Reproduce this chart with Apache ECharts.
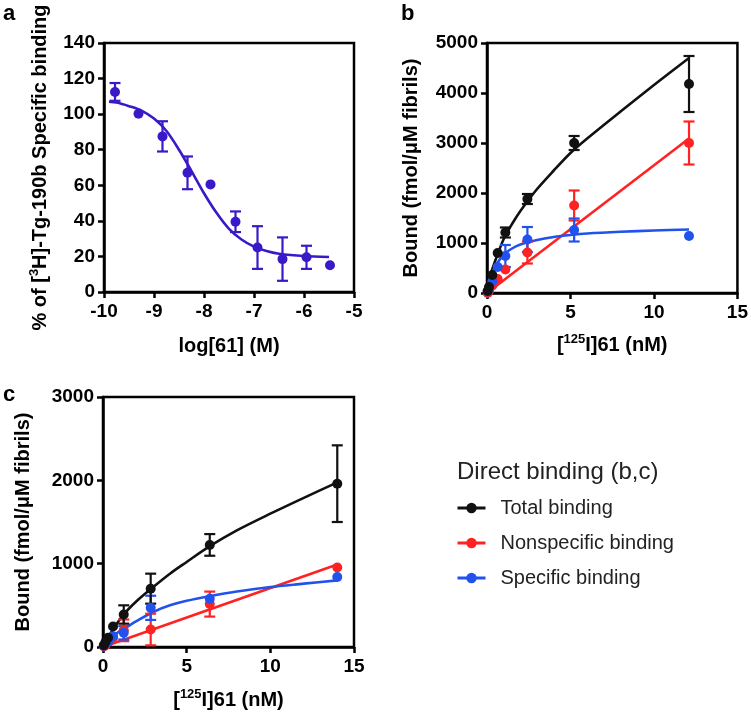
<!DOCTYPE html>
<html>
<head>
<meta charset="utf-8">
<script src="https://cdn.jsdelivr.net/npm/echarts@6/dist/echarts.min.js"></script>
<style>
html,body{margin:0;padding:0;background:#fff;}
#chart{width:751px;height:715px;}
</style>
</head>
<body>
<div id="chart"></div>
<script>
// ---------- Panel a: competition binding ----------
const aX = [-9.78, -9.31, -8.83, -8.33, -7.87, -7.37, -6.93, -6.43, -5.95, -5.48];
const aY = [112.5, 100.2, 87.5, 67, 60.5, 39.5, 25, 18.5, 19.5, 15];
const aErr = [5, 0, 8.5, 9.2, 0, 5.8, 12, 12.2, 6.5, 0];
const aCurveX = [-9.9, -9.75, -9.5, -9.25, -9, -8.75, -8.5, -8.25, -8, -7.75, -7.5, -7.25, -7, -6.75, -6.5, -6, -5.5];
const aCurveY = [107, 106.5, 104.5, 102, 97.5, 90.5, 80, 68, 55.5, 44.5, 35.5, 29.5, 25.5, 23, 21.5, 20.2, 19.7];

// ---------- Panel b: direct binding ----------
const bX = [0.04, 0.12, 0.32, 0.64, 1.1, 2.42, 5.22, 12.1];
const bTotal = [40, 120, 360, 800, 1210, 1880, 3000, 4180];
const bTotalErr = [0, 0, 0, 0, 100, 100, 140, 560];
const bNonspec = [0, 40, 150, 280, 470, 810, 1750, 3000];
const bNonspecErr = [0, 0, 0, 0, 0, 220, 300, 430];
const bSpec = [30, 90, 230, 520, 740, 1070, 1260, 1140];
const bSpecErr = [0, 0, 0, 0, 220, 250, 230, 0];
const bCurveX = [0, 0.25, 0.5, 1, 1.5, 2, 3, 4, 5, 6, 8, 10, 12.1];
const bTotalCurve = [0, 400, 650, 1080, 1380, 1640, 2080, 2450, 2800, 3090, 3630, 4160, 4700];
const bSpecCurve = [0, 330, 530, 770, 890, 970, 1060, 1120, 1160, 1190, 1225, 1250, 1270];
const bNonspecLineX = [0, 12.1];
const bNonspecLineY = [0, 3090];

// ---------- Panel c: direct binding ----------
const cX = [0.05, 0.15, 0.3, 0.6, 1.24, 2.85, 6.38, 14.0];
const cTotal = [20, 60, 110, 245, 390, 700, 1225, 1960];
const cTotalErr = [0, 0, 0, 0, 110, 180, 130, 460];
const cNonspec = [5, 20, 60, 110, 200, 210, 515, 955];
const cNonspecErr = [0, 0, 0, 0, 130, 190, 150, 0];
const cSpec = [15, 40, 60, 130, 170, 470, 580, 840];
const cSpecErr = [0, 0, 0, 0, 80, 145, 0, 0];
const cCurveX = [0, 0.25, 0.5, 1, 1.5, 2, 3, 4, 5, 6.38, 8, 10, 12, 14];
const cTotalCurve = [0, 100, 180, 330, 450, 550, 720, 880, 1020, 1210, 1400, 1600, 1790, 1975];
const cSpecCurve = [0, 60, 110, 190, 250, 310, 420, 500, 555, 610, 665, 720, 760, 800];
const cNonspecLineX = [0, 14];
const cNonspecLineY = [0, 990];

// ---------- Tick settings ----------
const aXTicks = {min: -10, max: -5, interval: 1};
const aYTicks = {min: 0, max: 140, interval: 20};
const bXTicks = {min: 0, max: 15, interval: 5};
const bYTicks = {min: 0, max: 5000, interval: 1000};
const cXTicks = {min: 0, max: 15, interval: 5};
const cYTicks = {min: 0, max: 3000, interval: 1000};

const seriesNames = ['Total binding', 'Nonspecific binding', 'Specific binding'];

const PURPLE = '#3a1ac8', BLACK = '#111111', RED = '#ff2222', BLUE = '#2152ee';
const FONT = 'Liberation Sans, Arial, Helvetica, sans-serif';

function zip(xs, ys) { return xs.map((x, i) => [x, ys[i]]); }
function errData(xs, ys, es) {
  const out = [];
  xs.forEach((x, i) => { if (es[i] > 0) out.push([x, ys[i] - es[i], ys[i] + es[i]]); });
  return out;
}
function errSeries(idx, data, color) {
  return {
    type: 'custom', xAxisIndex: idx, yAxisIndex: idx, data: data,
    encode: {x: 0, y: [1, 2]}, z: 3,
    renderItem: function (params, api) {
      const x = api.value(0);
      const lo = api.coord([x, api.value(1)]);
      const hi = api.coord([x, api.value(2)]);
      const cap = 5.5;
      const st = {stroke: color, lineWidth: 2.2};
      return {type: 'group', children: [
        {type: 'line', shape: {x1: lo[0], y1: lo[1], x2: hi[0], y2: hi[1]}, style: st},
        {type: 'line', shape: {x1: lo[0] - cap, y1: lo[1], x2: lo[0] + cap, y2: lo[1]}, style: st},
        {type: 'line', shape: {x1: hi[0] - cap, y1: hi[1], x2: hi[0] + cap, y2: hi[1]}, style: st}
      ]};
    }
  };
}
function curve(idx, name, data, color) {
  return {type: 'line', name: name, xAxisIndex: idx, yAxisIndex: idx, data: data,
    smooth: 0.3, showSymbol: false, symbol: 'circle', symbolSize: 9,
    lineStyle: {color: color, width: 2.6}, itemStyle: {color: color}, z: 2, silent: true};
}
function pts(idx, data, color) {
  return {type: 'scatter', xAxisIndex: idx, yAxisIndex: idx, data: data, symbol: 'circle',
    symbolSize: 10, itemStyle: {color: color, opacity: 1}, z: 4};
}

const supRich = {sup: {fontSize: 13, fontWeight: 'bold', fontFamily: FONT, color: '#000', verticalAlign: 'top', lineHeight: 14}};
const nameStyle = {fontSize: 20, fontWeight: 'bold', fontFamily: FONT, color: '#000', lineHeight: 24, rich: supRich};

function axis(idx, ticks, name, gap, isY) {
  return Object.assign({
    type: 'value', gridIndex: idx,
    name: name, nameLocation: 'middle', nameGap: gap, nameTextStyle: nameStyle,
    axisLine: {show: true, onZero: false, lineStyle: {color: '#000', width: 2.5}},
    axisTick: {show: true, length: 6, lineStyle: {color: '#000', width: 2.5}},
    axisLabel: {color: '#000', fontSize: 19, fontWeight: 'bold', fontFamily: FONT, margin: isY ? 9 : 10,
      formatter: function (v) { return String(v); }},
    splitLine: {show: false}
  }, ticks);
}

const gridBase = {show: true, borderColor: '#000', borderWidth: 2.5, backgroundColor: 'transparent', containLabel: false};

const option = {
  animation: false,
  backgroundColor: '#fff',
  title: [
    {text: 'a', left: 3, top: 3, padding: 0, textStyle: {fontSize: 22, fontWeight: 'bold', fontFamily: FONT, color: '#000'}},
    {text: 'b', left: 401, top: 3, padding: 0, textStyle: {fontSize: 22, fontWeight: 'bold', fontFamily: FONT, color: '#000'}},
    {text: 'c', left: 3, top: 384, padding: 0, textStyle: {fontSize: 22, fontWeight: 'bold', fontFamily: FONT, color: '#000'}},
    {text: 'Direct binding (b,c)', left: 457, top: 460, padding: 0, textStyle: {fontSize: 24, fontWeight: 'normal', fontFamily: FONT, color: '#222'}}
  ],
  legend: {
    data: seriesNames, orient: 'vertical', left: 456, top: 498, padding: 0,
    itemWidth: 28, itemHeight: 13, itemGap: 15,
    lineStyle: {width: 3},
    textStyle: {fontSize: 20, color: '#222', fontFamily: FONT, lineHeight: 20, padding: [0, 0, 0, 10]}
  },
  grid: [
    Object.assign({left: 104, top: 43, width: 250, height: 249}, gridBase),
    Object.assign({left: 487, top: 43, width: 251, height: 250}, gridBase),
    Object.assign({left: 103, top: 397, width: 251, height: 250}, gridBase)
  ],
  xAxis: [
    axis(0, aXTicks, 'log[61] (M)', 42, false),
    axis(1, bXTicks, '[{sup|125}I]61 (nM)', 40, false),
    axis(2, cXTicks, '[{sup|125}I]61 (nM)', 41, false)
  ],
  yAxis: [
    axis(0, aYTicks, '% of [{sup|3}H]-Tg-190b Specific binding', 52, true),
    axis(1, bYTicks, 'Bound (fmol/μM fibrils)', 64, true),
    axis(2, cYTicks, 'Bound (fmol/μM fibrils)', 68, true)
  ],
  series: [
    curve(1, seriesNames[0], zip(bCurveX, bTotalCurve), BLACK),
    curve(1, seriesNames[1], zip(bNonspecLineX, bNonspecLineY), RED),
    curve(1, seriesNames[2], zip(bCurveX, bSpecCurve), BLUE),
    curve(2, seriesNames[0], zip(cCurveX, cTotalCurve), BLACK),
    curve(2, seriesNames[1], zip(cNonspecLineX, cNonspecLineY), RED),
    curve(2, seriesNames[2], zip(cCurveX, cSpecCurve), BLUE),
    curve(0, 'IC50 fit', zip(aCurveX, aCurveY), PURPLE),
    errSeries(0, errData(aX, aY, aErr), PURPLE),
    pts(0, zip(aX, aY), PURPLE),
    errSeries(1, errData(bX, bNonspec, bNonspecErr), RED),
    errSeries(1, errData(bX, bSpec, bSpecErr), BLUE),
    errSeries(1, errData(bX, bTotal, bTotalErr), BLACK),
    pts(1, zip(bX, bNonspec), RED),
    pts(1, zip(bX, bSpec), BLUE),
    pts(1, zip(bX, bTotal), BLACK),
    errSeries(2, errData(cX, cNonspec, cNonspecErr), RED),
    errSeries(2, errData(cX, cSpec, cSpecErr), BLUE),
    errSeries(2, errData(cX, cTotal, cTotalErr), BLACK),
    pts(2, zip(cX, cNonspec), RED),
    pts(2, zip(cX, cSpec), BLUE),
    pts(2, zip(cX, cTotal), BLACK)
  ]
};

const chart = echarts.init(document.getElementById('chart'), null, {renderer: 'canvas'});
chart.setOption(option);
</script>
</body>
</html>
